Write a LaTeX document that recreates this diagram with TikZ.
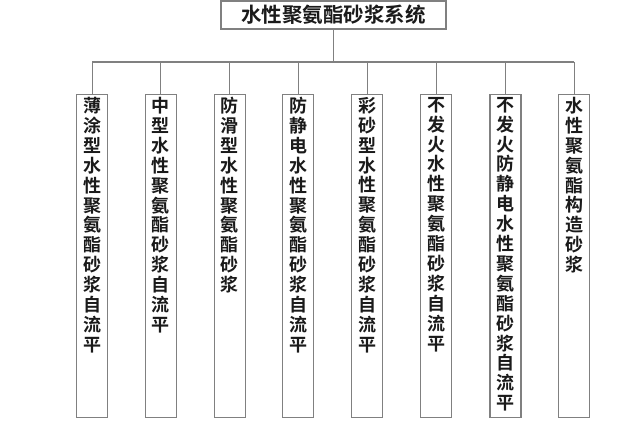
\documentclass[tikz,border=0pt]{standalone}
\usepackage{fontspec}
\newfontfamily\cjkb{Noto Sans CJK SC Bold}
\definecolor{linegray}{HTML}{808080}
\definecolor{inkc}{HTML}{1A1A1A}
\tikzset{
  titlebox/.style={draw=linegray, line width=1.1pt, minimum width=225pt, minimum height=28pt, inner sep=0pt, text=inkc, font=\cjkb\fontsize{20.5}{22}\selectfont},
  colbox/.style={draw=linegray, line width=1.1pt, minimum width=31pt, minimum height=323pt, inner sep=0pt, anchor=north},
  coltext/.style={inner sep=0pt, anchor=north, align=center, text=inkc, font=\cjkb\fontsize{18}{19.9}\selectfont},
  conn/.style={draw=linegray, line width=1.1pt}
}
\begin{document}
\begin{tikzpicture}[x=1pt,y=-1pt]
\useasboundingbox (0,0) rectangle (640,428);
\node[titlebox] (title) at (333.5,15) {水性聚氨酯砂浆系统};
\coordinate (busL) at (92.3,62);
\coordinate (busR) at (574.3,62);
\foreach \i/\x/\t in {
 1/92.3/{薄\\涂\\型\\水\\性\\聚\\氨\\酯\\砂\\浆\\自\\流\\平},
 2/160.9/{中\\型\\水\\性\\聚\\氨\\酯\\砂\\浆\\自\\流\\平},
 3/229.6/{防\\滑\\型\\水\\性\\聚\\氨\\酯\\砂\\浆},
 4/298.4/{防\\静\\电\\水\\性\\聚\\氨\\酯\\砂\\浆\\自\\流\\平},
 5/367.3/{彩\\砂\\型\\水\\性\\聚\\氨\\酯\\砂\\浆\\自\\流\\平},
 6/436.2/{不\\发\\火\\水\\性\\聚\\氨\\酯\\砂\\浆\\自\\流\\平},
 7/505.5/{不\\发\\火\\防\\静\\电\\水\\性\\聚\\氨\\酯\\砂\\浆\\自\\流\\平},
 8/574.3/{水\\性\\聚\\氨\\酯\\构\\造\\砂\\浆}}{
  \node[colbox] (b\i) at (\x,93.5) {};
  \node[coltext] (t\i) at (\x,97) {\t};
  \draw[conn] (b\i.north |- busL) -- (b\i.north);
}
\draw[conn] (title.south) -- (title.south |- busL);
\draw[conn] (busL) -- (busR);
\end{tikzpicture}
\end{document}
